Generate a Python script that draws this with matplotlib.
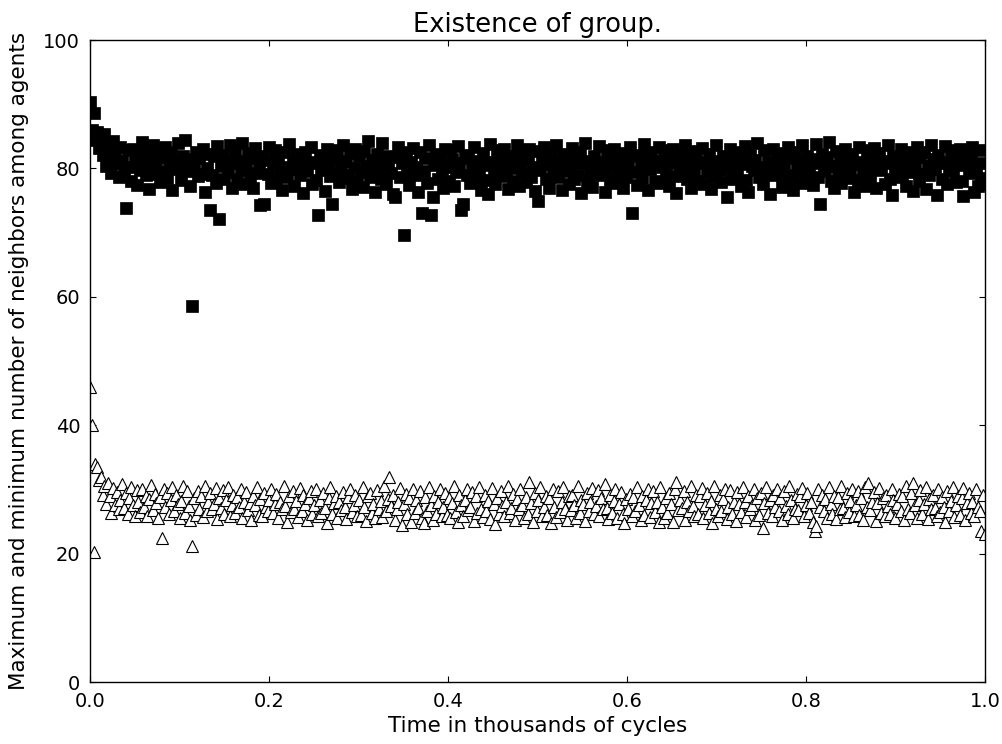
import matplotlib
matplotlib.use('Agg')
import matplotlib.pyplot as plt
import numpy as np

# max neighbours (squares), one value per time step
max_neighbors = [
    90.4, 86.0, 88.7, 84.5, 85.6, 83.2, 84.9, 82.1, 85.3, 80.4, 83.8, 81.6, 79.3, 84.2, 82.7, 80.9, 78.6, 83.4, 81.2, 79.8,
    73.8, 82.9, 80.3, 78.1, 83.1, 81.5, 77.4, 82.4, 79.7, 84.1, 80.6, 78.9, 82.2, 76.8, 81.3, 83.6, 79.1, 80.7, 82.8, 77.9,
    81.8, 79.4, 83.3, 78.5, 80.2, 82.5, 76.6, 81.1, 79.9, 83.9, 80.8, 78.2, 82.0, 84.4, 79.6, 81.4, 77.2, 58.5, 80.5, 82.6,
    78.8, 81.7, 79.2, 83.0, 76.4, 80.1, 82.3, 73.6, 79.0, 81.9, 77.7, 83.5, 72.1, 80.4, 82.1, 78.4, 81.0, 79.5, 83.7, 77.0,
    80.9, 82.7, 78.3, 81.2, 79.8, 84.0, 77.6, 80.0, 82.4, 78.7, 81.6, 76.9, 83.2, 79.3, 80.6, 74.3, 82.0, 74.5, 81.3, 79.1,
    83.4, 77.8, 80.7, 82.9, 78.0, 81.5, 79.4, 76.7, 82.6, 80.2, 78.6, 83.8, 79.9, 81.1, 77.3, 82.2, 80.5, 78.9, 81.8, 76.2,
    82.5, 79.6, 81.0, 83.3, 77.5, 80.8, 78.2, 72.8, 82.1, 79.7, 81.4, 76.5, 83.0, 80.3, 78.8, 74.5, 81.7, 79.2, 82.8, 77.9,
    80.6, 83.6, 78.5, 81.2, 79.0, 82.4, 76.8, 80.1, 83.1, 78.1, 81.9, 79.5, 77.1, 82.7, 80.4, 84.2, 78.7, 81.3, 79.8, 76.3,
    82.3, 80.0, 78.4, 83.9, 81.5, 77.6, 80.7, 82.0, 79.3, 76.0, 75.5, 81.8, 83.4, 78.6, 80.9, 69.7, 82.5, 79.1, 77.4, 81.0,
    83.2, 78.9, 80.3, 76.4, 82.6, 73.0, 79.6, 81.6, 77.8, 83.7, 72.8, 75.5, 80.5, 82.2, 78.3, 81.1, 79.9, 76.9, 83.0, 80.2,
    78.0, 82.8, 81.4, 77.2, 79.4, 83.5, 80.8, 73.5, 74.5, 82.1, 79.0, 81.7, 77.7, 80.1, 83.3, 78.5, 81.2, 79.7, 76.6, 82.4,
    80.6, 78.2, 76.0, 83.8, 81.0, 79.2, 77.5, 82.9, 80.4, 78.8, 81.5, 83.1, 79.5, 76.8, 82.0, 80.0, 78.1, 81.9, 83.6, 77.3,
    80.9, 79.3, 82.5, 77.9, 81.3, 83.0, 78.6, 80.2, 76.5, 82.7, 75.0, 79.8, 81.6, 83.4, 78.3, 80.7, 77.0, 82.2, 79.1, 81.1,
    83.7, 78.7, 80.5, 76.7, 82.3, 79.6, 81.8, 77.6, 80.0, 83.2, 78.4, 81.4, 79.0, 82.6, 76.2, 80.8, 83.9, 78.0, 81.2, 79.4,
    77.1, 82.0, 80.3, 78.9, 83.5, 81.0, 79.7, 76.4, 82.8, 80.1, 78.2, 81.7, 83.1, 77.8, 80.6, 79.2, 82.4, 76.9, 81.5, 78.6,
    80.4, 83.3, 73.0, 79.5, 81.9, 77.4, 82.1, 80.0, 78.5, 83.8, 81.3, 76.6, 79.9, 82.5, 80.7, 78.1, 81.1, 83.4, 77.7, 80.2,
    82.9, 79.0, 81.6, 77.2, 80.8, 83.0, 78.8, 76.1, 82.2, 80.5, 79.3, 81.8, 83.6, 78.3, 80.1, 77.0, 82.7, 79.6, 81.4, 78.0,
    80.9, 83.2, 77.5, 81.0, 79.4, 82.3, 76.8, 80.6, 78.7, 83.7, 81.2, 79.8, 77.9, 82.0, 80.3, 75.6, 81.5, 83.1, 78.4, 80.0,
    82.6, 79.1, 81.9, 77.3, 80.7, 83.5, 78.2, 76.3, 82.1, 80.4, 79.7, 81.3, 83.9, 78.6, 80.2, 77.6, 82.8, 79.2, 81.0, 76.0,
    80.5, 83.0, 78.9, 81.7, 79.5, 82.4, 77.1, 80.8, 78.1, 83.3, 81.6, 79.0, 76.7, 82.5, 80.1, 78.4, 81.2, 83.6, 77.8, 80.6,
    82.0, 79.3, 81.4, 77.4, 80.9, 83.8, 78.7, 74.5, 82.3, 80.0, 79.6, 81.8, 84.1, 78.0, 80.4, 76.9, 82.7, 79.1, 81.1, 77.7,
    80.3, 83.1, 78.5, 81.5, 79.8, 82.2, 76.4, 80.7, 78.2, 83.4, 81.0, 79.4, 77.2, 82.9, 80.5, 78.8, 81.9, 83.2, 77.0, 80.1,
    82.4, 79.7, 81.2, 77.6, 80.8, 83.6, 78.3, 75.8, 82.0, 80.2, 79.0, 81.6, 83.0, 78.6, 80.6, 77.3, 82.6, 79.5, 81.3, 76.5,
    80.0, 83.3, 78.1, 81.8, 79.2, 82.5, 76.8, 80.4, 78.9, 83.7, 81.4, 79.9, 75.9, 82.1, 80.9, 78.4, 81.0, 83.5, 77.5, 80.3,
    82.8, 79.6, 81.7, 77.9, 80.5, 83.1, 78.0, 75.7, 82.3, 80.7, 79.3, 81.5, 83.4, 76.3, 80.1, 77.2, 82.9, 78.5, 80.8, 77.6,
]

# min neighbours (triangles)
min_neighbors = [
    46.0, 40.0, 20.2, 34.0, 33.5, 31.5, 32.0, 29.2, 30.6, 27.8, 31.0, 28.9, 26.4, 30.2, 27.5, 29.6, 26.9, 28.3, 30.8, 27.1,
    29.4, 26.2, 28.7, 30.4, 27.6, 25.8, 29.9, 28.1, 26.5, 30.1, 27.3, 29.0, 25.9, 28.5, 30.7, 26.8, 29.3, 27.9, 25.6, 28.8,
    22.5, 30.0, 27.2, 29.5, 26.1, 28.4, 30.3, 26.7, 29.1, 27.7, 25.5, 28.2, 30.5, 26.3, 29.8, 27.4, 25.3, 21.2, 28.6, 26.0,
    29.7, 27.0, 28.9, 25.7, 30.6, 26.6, 28.0, 29.4, 26.9, 27.8, 30.2, 25.4, 28.7, 27.1, 29.9, 26.2, 28.3, 30.4, 25.8, 27.5,
    29.2, 26.4, 28.8, 27.3, 30.0, 25.6, 28.1, 29.6, 26.8, 27.9, 25.2, 29.0, 27.6, 30.3, 26.0, 28.5, 25.9, 29.5, 27.2, 26.6,
    28.4, 30.1, 26.3, 27.7, 29.3, 25.5, 28.0, 26.9, 30.5, 27.4, 25.0, 28.9, 26.5, 29.8, 27.0, 28.2, 25.7, 30.2, 26.7, 29.1,
    27.8, 25.3, 28.6, 29.7, 26.1, 27.5, 30.0, 25.8, 28.3, 26.4, 29.4, 27.1, 24.8, 28.7, 30.4, 26.2, 27.9, 29.0, 25.6, 28.1,
    26.8, 29.6, 27.3, 25.4, 28.8, 30.1, 26.5, 27.6, 29.2, 25.9, 28.4, 26.0, 30.3, 27.2, 25.1, 28.9, 29.5, 26.3, 27.7, 25.5,
    29.9, 27.0, 28.2, 25.7, 30.6, 26.6, 28.5, 32.0, 27.4, 29.1, 25.2, 26.9, 28.0, 30.2, 24.5, 27.8, 29.3, 26.1, 28.6, 25.0,
    30.0, 26.4, 28.3, 27.1, 29.7, 25.6, 24.7, 28.8, 26.7, 30.4, 27.5, 25.3, 29.0, 26.2, 28.1, 30.1, 25.8, 27.3, 29.4, 26.0,
    28.7, 25.5, 27.9, 30.5, 26.5, 24.9, 29.2, 27.6, 25.9, 28.4, 30.0, 26.8, 27.2, 29.6, 25.1, 28.9, 26.3, 30.3, 27.0, 25.7,
    29.1, 26.6, 28.2, 25.4, 30.2, 27.7, 24.6, 28.6, 26.1, 29.8, 27.4, 25.8, 28.0, 30.6, 26.4, 27.1, 29.3, 25.2, 28.5, 26.9,
    30.1, 27.5, 25.6, 28.8, 26.2, 31.2, 27.9, 25.0, 29.5, 26.7, 28.3, 30.4, 25.9, 27.2, 29.0, 26.0, 28.6, 24.8, 30.0, 27.3,
    25.7, 29.7, 26.5, 28.1, 30.3, 27.0, 25.3, 28.9, 26.8, 29.2, 27.6, 25.5, 30.5, 26.3, 28.4, 27.8, 25.1, 29.4, 26.6, 28.0,
    30.2, 26.1, 27.4, 29.9, 25.8, 28.7, 26.9, 30.8, 27.1, 25.4, 29.1, 26.4, 28.2, 30.0, 25.6, 27.7, 29.6, 26.2, 24.7, 28.5,
    27.0, 29.3, 25.9, 28.8, 26.7, 30.4, 27.5, 25.2, 29.0, 26.0, 28.3, 30.1, 25.7, 27.9, 29.7, 26.5, 28.1, 24.9, 30.3, 27.2,
    25.5, 28.6, 26.3, 29.4, 27.8, 25.0, 30.0, 31.2, 26.8, 28.4, 27.1, 29.8, 25.3, 28.0, 26.6, 30.5, 27.4, 25.8, 29.1, 26.1,
    28.9, 30.2, 25.6, 27.6, 29.5, 26.4, 28.2, 24.8, 30.6, 27.0, 25.9, 29.2, 26.7, 28.5, 30.0, 25.4, 27.3, 29.9, 26.2, 28.1,
    25.1, 29.6, 27.7, 26.5, 30.3, 28.0, 25.7, 29.0, 26.9, 27.5, 30.1, 25.3, 28.7, 26.0, 29.4, 24.0, 27.9, 30.4, 26.3, 28.3,
    25.8, 29.1, 27.2, 30.0, 26.6, 28.6, 25.2, 29.7, 27.4, 26.1, 30.5, 28.4, 25.5, 27.0, 29.3, 26.8, 28.9, 30.2, 25.9, 27.6,
    29.5, 26.4, 28.1, 25.0, 23.5, 24.3, 30.0, 27.3, 29.2, 26.7, 28.5, 25.6, 30.3, 27.8, 26.2, 29.0, 25.4, 28.8, 26.9, 30.6,
    27.1, 25.7, 29.4, 26.5, 28.2, 30.1, 25.9, 27.5, 29.8, 26.0, 28.6, 25.3, 30.4, 27.2, 31.0, 26.8, 28.0, 29.6, 25.1, 27.9,
    30.2, 26.3, 28.7, 25.8, 29.1, 27.4, 26.1, 30.0, 28.4, 25.5, 27.7, 29.3, 26.6, 28.9, 25.2, 30.5, 27.0, 26.4, 29.5, 31.0,
    27.6, 25.6, 28.3, 29.9, 26.2, 27.8, 30.3, 25.4, 28.5, 26.9, 29.2, 27.1, 25.9, 30.1, 26.5, 28.8, 27.3, 25.0, 29.7, 26.7,
    28.2, 30.4, 25.7, 27.5, 29.0, 26.0, 28.6, 30.2, 25.3, 27.9, 29.4, 26.3, 28.1, 25.8, 30.0, 27.2, 26.6, 23.5, 29.1, 23.0,
]

# time in thousands of cycles, one sample per step
time = np.linspace(0, 1, len(max_neighbors))

fig = plt.figure(figsize=(10.03, 7.44), dpi=100)
ax = fig.add_axes([0.0897, 0.0833, 0.8923, 0.8629])

ax.plot(time, max_neighbors, 's', color='black', markersize=8, markeredgewidth=0.5)
ax.plot(time, min_neighbors, '^', markerfacecolor='white', markeredgecolor='black',
        markersize=9, markeredgewidth=0.8)

ax.set_xlim(0, 1)
ax.set_ylim(0, 100)
ax.set_xticks([0.0, 0.2, 0.4, 0.6, 0.8, 1.0])
ax.set_yticks([0, 20, 40, 60, 80, 100])
ax.tick_params(direction='in', top=True, right=True, length=4, labelsize=14, pad=7)
for s in ax.spines.values():
    s.set_linewidth(1.0)

ax.set_title('Existence of group.', fontsize=18.5)
ax.set_xlabel('Time in thousands of cycles', fontsize=15.5, labelpad=4)
ax.set_ylabel('Maximum and minimum number of neighbors among agents', fontsize=15.5, labelpad=10)

fig.savefig('out.png', dpi=100, facecolor='white')
